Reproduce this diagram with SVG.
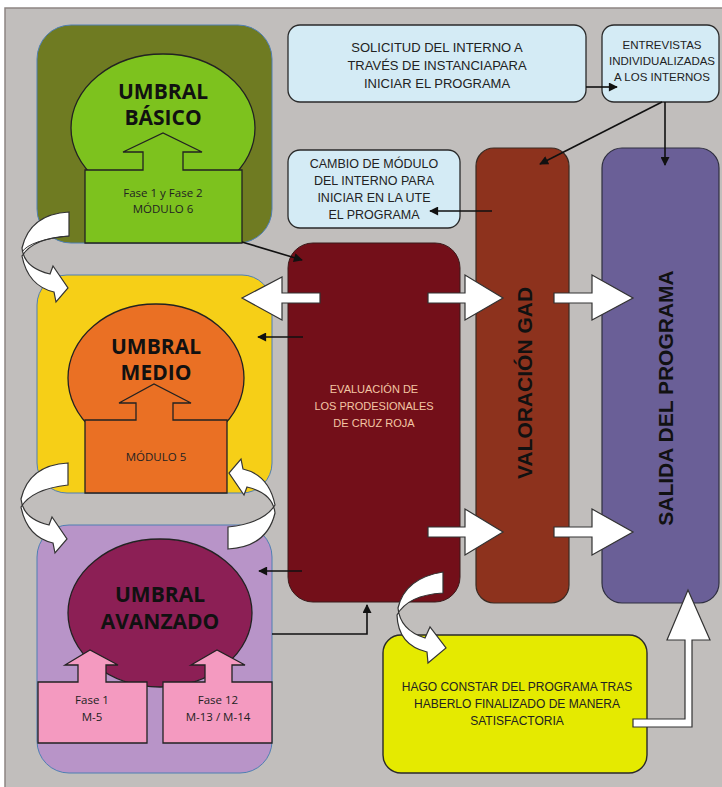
<svg xmlns="http://www.w3.org/2000/svg" width="722" height="787" viewBox="0 0 722 787">
<defs>
<style>
.hdr{font-family:"Open Sans","Liberation Sans",sans-serif;font-weight:bold;font-size:21px;fill:#111;text-anchor:middle}
.sm{font-family:"Open Sans","Liberation Sans",sans-serif;font-size:11.5px;fill:#222;text-anchor:middle}
.box{font-family:"Liberation Sans",Arial,sans-serif;fill:#222;text-anchor:middle}
.vt{font-family:"Liberation Sans",Arial,sans-serif;font-weight:bold;font-size:21px;fill:#111;text-anchor:middle}
.ln{fill:none;stroke:#111;stroke-width:1.6}
.wa{fill:#fff;stroke:#333;stroke-width:1.2;stroke-linejoin:miter}
.sh{stroke:#222;stroke-width:1.3}
</style>
<marker id="ah" viewBox="0 0 10 10" refX="9" refY="5" markerWidth="10" markerHeight="9" markerUnits="userSpaceOnUse" orient="auto">
<path d="M0,0 L10,5 L0,10 Z" fill="#111"/>
</marker>
</defs>
<rect x="0" y="0" width="722" height="787" fill="#ffffff"/>
<rect x="5" y="8" width="720" height="782" fill="#c1bebc" stroke="#8d8582" stroke-width="1.5"/>

<g id="umbral-basico">
<rect x="37" y="25" width="235" height="218" rx="34" fill="#6f7b22" stroke="#4f7fb3" stroke-width="1"/>
<ellipse cx="163" cy="128" rx="92" ry="74" fill="#7dc21e" class="sh"/>
<polygon points="85,243 85,170 143,170 143,152 123,152 163,133 202,152 183,152 183,170 242,170 242,243" fill="#7dc21e" class="sh"/>
<text class="hdr" x="163" y="99">UMBRAL</text>
<text class="hdr" x="163" y="125">BÁSICO</text>
<text class="sm" x="163" y="197">Fase 1 y Fase 2</text>
<text class="sm" x="163" y="213">MÓDULO 6</text>
</g>

<g id="umbral-medio">
<rect x="37" y="275" width="235" height="218" rx="30" fill="#f6cf17" stroke="#4f7fb3" stroke-width="1"/>
<ellipse cx="156" cy="378" rx="88" ry="74" fill="#ea7024" class="sh"/>
<polygon points="85,493 85,420 136,420 136,403 119,403 154,384 191,403 173,403 173,420 227,420 227,493" fill="#ea7024" class="sh"/>
<text class="hdr" x="156" y="354">UMBRAL</text>
<text class="hdr" x="156" y="380">MEDIO</text>
<text class="sm" x="156" y="461">MÓDULO 5</text>
</g>

<g id="umbral-avanzado">
<rect x="37" y="525" width="235" height="248" rx="32" fill="#b894c8" stroke="#4f7fb3" stroke-width="1"/>
<ellipse cx="160" cy="613" rx="92" ry="74" fill="#8c1f55" class="sh"/>
<polygon points="38,743 38,682 78,682 78,665 65,665 90,650 118,665 106,665 106,682 147,682 147,743" fill="#f49ac0" class="sh"/>
<polygon points="163,743 163,682 205,682 205,665 191,665 217,650 245,665 232,665 232,682 272,682 272,743" fill="#f49ac0" class="sh"/>
<text class="hdr" x="160" y="602">UMBRAL</text>
<text class="hdr" x="160" y="629">AVANZADO</text>
<text class="sm" x="92" y="704">Fase 1</text>
<text class="sm" x="92" y="721">M-5</text>
<text class="sm" x="218" y="704">Fase 12</text>
<text class="sm" x="218" y="721">M-13 / M-14</text>
</g>

<g id="solicitud">
<rect x="288" y="25" width="298" height="77" rx="12" fill="#d4ebf5" stroke="#2a2a2a" stroke-width="1.3"/>
<text class="box" font-size="13" x="437" y="52">SOLICITUD DEL INTERNO A</text>
<text class="box" font-size="13" x="437" y="70">TRAVÉS DE INSTANCIAPARA</text>
<text class="box" font-size="13" x="437" y="88">INICIAR EL PROGRAMA</text>
</g>

<g id="entrevistas">
<rect x="602" y="25" width="117" height="77" rx="12" fill="#d4ebf5" stroke="#2a2a2a" stroke-width="1.3"/>
<text class="box" font-size="11.5" x="662" y="49">ENTREVISTAS</text>
<text class="box" font-size="11.5" x="662" y="65">INDIVIDUALIZADAS</text>
<text class="box" font-size="11.5" x="662" y="81">A LOS INTERNOS</text>
</g>

<g id="cambio">
<rect x="288" y="150" width="172" height="78" rx="12" fill="#d4ebf5" stroke="#2a2a2a" stroke-width="1.3"/>
<text class="box" font-size="12.5" x="374" y="168">CAMBIO DE MÓDULO</text>
<text class="box" font-size="12.5" x="374" y="185">DEL INTERNO PARA</text>
<text class="box" font-size="12.5" x="374" y="202">INICIAR EN LA UTE</text>
<text class="box" font-size="12.5" x="374" y="219">EL PROGRAMA</text>
</g>

<g id="valoracion">
<rect x="476" y="148" width="93" height="455" rx="18" fill="#8d321d" stroke="#3a2a22" stroke-width="1.2"/>
<text class="vt" transform="translate(532,383) rotate(-90)">VALORACIÓN GAD</text>
</g>

<g id="salida">
<rect x="602" y="148" width="117" height="455" rx="20" fill="#6a5f97" stroke="#2f2f40" stroke-width="1.2"/>
<text class="vt" transform="translate(673,398) rotate(-90)">SALIDA DEL PROGRAMA</text>
</g>

<g id="evaluacion">
<rect x="288" y="243" width="172" height="359" rx="25" fill="#730f19" stroke="#3a1a1a" stroke-width="1"/>
<text class="box" font-size="11" fill="#f3c6a4" style="fill:#f3c6a4" x="374" y="393">EVALUACIÓN DE</text>
<text class="box" font-size="11" style="fill:#f3c6a4" x="374" y="410">LOS PRODESIONALES</text>
<text class="box" font-size="11" style="fill:#f3c6a4" x="374" y="427">DE CRUZ ROJA</text>
</g>

<g id="hago-constar">
<rect x="383" y="635" width="264" height="138" rx="18" fill="#e5ea00" stroke="#2a2a2a" stroke-width="1.4"/>
<text class="box" font-size="12" x="517" y="691">HAGO CONSTAR DEL PROGRAMA TRAS</text>
<text class="box" font-size="12" x="517" y="708">HABERLO FINALIZADO DE MANERA</text>
<text class="box" font-size="12" x="517" y="725">SATISFACTORIA</text>
</g>

<g id="connectors">
<line class="ln" x1="586" y1="87" x2="617" y2="87" marker-end="url(#ah)"/>
<line class="ln" x1="662" y1="102" x2="540" y2="164" marker-end="url(#ah)"/>
<line class="ln" x1="665" y1="102" x2="665" y2="165" marker-end="url(#ah)"/>
<line class="ln" x1="492" y1="211" x2="430" y2="211" marker-end="url(#ah)"/>
<line class="ln" x1="242" y1="242" x2="302" y2="260" marker-end="url(#ah)"/>
<line class="ln" x1="303" y1="337" x2="258" y2="337" marker-end="url(#ah)"/>
<line class="ln" x1="302" y1="571" x2="259" y2="571" marker-end="url(#ah)"/>
<polyline class="ln" points="272,634 367,634 367,605" marker-end="url(#ah)"/>

<polygon class="wa" points="320,293 282,293 282,277 242,298 282,320 282,303 320,303"/>
<polygon class="wa" points="428,293 465,293 465,275 503,298 465,320 465,303 428,303"/>
<polygon class="wa" points="428,527 465,527 465,509 503,532 465,555 465,537 428,537"/>
<polygon class="wa" points="554,293 592,293 592,275 633,298 592,320 592,303 554,303"/>
<polygon class="wa" points="554,527 592,527 592,509 633,532 592,555 592,537 554,537"/>
<polygon class="wa" points="633,719 685,719 685,640 667,640 688,590 710,640 692,640 692,727 633,727"/>

<path class="wa" d="M69,212 Q30,214 22,248 Q24,268 50,274 L53,266 L68,288 L56,302 L54,292 Q28,286 22,256 Q33,238 69,236 Z"/>
<path d="M22,252 Q30,240 69,236" fill="none" stroke="#333" stroke-width="1"/>
<path class="wa" d="M68,463 Q29,465 21,499 Q23,519 49,525 L52,517 L67,539 L55,553 L53,543 Q27,537 21,507 Q32,489 68,485 Z"/>
<path class="wa" transform="translate(296,1012) scale(-1,-1)" d="M68,463 Q29,465 21,499 Q23,519 49,525 L52,517 L67,539 L55,553 L53,543 Q27,537 21,507 Q32,489 68,485 Z"/>
<path class="wa" d="M443,572 Q405,578 398,608 Q400,630 425,638 L430,627 L446,648 L428,663 L427,652 Q398,645 397,615 Q408,595 443,593 Z"/>
</g>
</svg>
